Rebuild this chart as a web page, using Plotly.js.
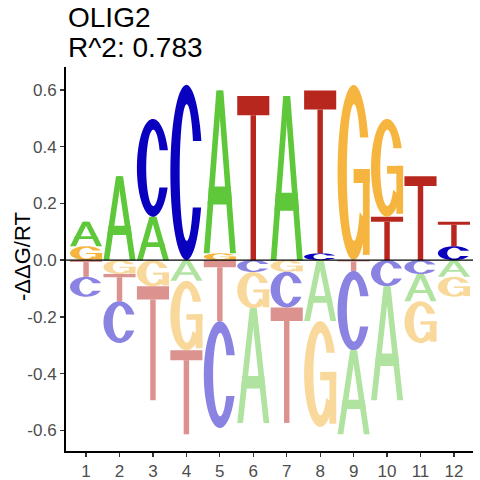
<!DOCTYPE html>
<html><head><meta charset="utf-8">
<script src="https://cdn.plot.ly/plotly-3.0.1.min.js"></script>
<style>html,body{margin:0;padding:0;background:#fff}#chart{width:480px;height:480px}</style>
</head><body><div id="chart"></div>
<script>
// ---- data ----
const positions = [1, 2, 3, 4, 5, 6, 7, 8, 9, 10, 11, 12];
const tickLabels = ['1', '2', '3', '4', '5', '6', '7', '8', '9', '10', '11', '12'];
const bases = ['A', 'C', 'G', 'T'];
const valA = [0.086, 0.296, 0.153, -0.073, 0.574, -0.404, 0.579, -0.215, -0.296, -0.402, -0.096, -0.059];
const valC = [-0.070, -0.147, 0.345, 0.618, -0.377, -0.042, -0.126, 0.024, -0.280, -0.092, -0.049, 0.049];
const valG = [0.049, -0.049, -0.092, -0.245, 0.024, -0.128, -0.041, -0.373, 0.618, 0.345, -0.147, -0.070];
const valT = [-0.059, -0.096, -0.402, -0.296, -0.215, 0.579, -0.407, 0.574, -0.038, 0.153, 0.296, 0.086];
const yTickVals = [-0.6, -0.4, -0.2, 0, 0.2, 0.4, 0.6];
const yTickText = ['-0.6', '-0.4', '-0.2', '0.0', '0.2', '0.4', '0.6'];
const titleLine1 = 'OLIG2';
const titleLine2 = 'R^2: 0.783';
const yTitle = '-ΔΔG/RT';

// ---- styles ----
const posColors = {A: '#5EC73A', C: '#0A00C0', G: '#F5B53F', T: '#B8271E'};
const negColors = {A: '#B0E2A0', C: '#8A83E2', G: '#F9D99B', T: '#DC928E'};
const FONT = 'Liberation Sans, Arial, Helvetica, sans-serif';
const HW = 0.48;

// ---- glyph outlines in a unit box ----
function rect(u0, v0, u1, v1) { return [[u0, v0], [u1, v0], [u1, v1], [u0, v1]]; }
function arcGlyph(isG) {
  const cx = 0.5, cy = 0.5, rxo = 0.5, ryo = 0.5, cxi = 0.51, rxi = 0.22, ryi = 0.39;
  const vTop = isG ? 0.70 : 0.68, vBot = 0.30;
  const aTopO = Math.asin((vTop - cy) / ryo), aTopI = Math.asin((vTop - cy) / ryi);
  let aEndO, aEndI;
  if (isG) { aEndO = aEndI = 2 * Math.PI - 35 * Math.PI / 180; }
  else { aEndO = 2 * Math.PI + Math.asin((vBot - cy) / ryo); aEndI = 2 * Math.PI + Math.asin((vBot - cy) / ryi); }
  const N = 60, pts = [];
  for (let i = 0; i <= N; i++) { const a = aTopO + (aEndO - aTopO) * i / N; pts.push([cx + rxo * Math.cos(a), cy + ryo * Math.sin(a)]); }
  for (let i = N; i >= 0; i--) { const a = aTopI + (aEndI - aTopI) * i / N; pts.push([cxi + rxi * Math.cos(a), cy + ryi * Math.sin(a)]); }
  const polys = [pts];
  if (isG) { polys.push(rect(0.5, 0.44, 1.0, 0.52)); polys.push(rect(0.79, 0.03, 1.0, 0.52)); }
  return polys;
}
const glyphs = {
  T: [rect(0, 0.883, 1, 1), rect(0.415, 0, 0.585, 0.883)],
  A: [
    [[0, 0], [0.18, 0], [0.565, 1], [0.39, 1]],
    [[1, 0], [0.82, 0], [0.435, 1], [0.61, 1]],
    [[0.117, 0.30], [0.883, 0.30], [0.84, 0.41], [0.16, 0.41]]
  ],
  C: arcGlyph(false),
  G: arcGlyph(true)
};

const shapes = [];
function addLetter(letter, x, y0, y1, positive) {
  const color = positive ? posColors[letter] : negColors[letter];
  glyphs[letter].forEach(poly => {
    const path = 'M' + poly.map(p => (x - HW + p[0] * 2 * HW).toFixed(5) + ',' + (y0 + p[1] * (y1 - y0)).toFixed(5)).join('L') + 'Z';
    shapes.push({type: 'path', xref: 'x', yref: 'y', path: path, fillcolor: color, line: {width: 0}, layer: 'above'});
  });
}

const series = [valA, valC, valG, valT];
positions.forEach((x, i) => {
  const vals = bases.map((b, k) => ({b: b, v: series[k][i]}));
  const ups = vals.filter(d => d.v > 0).sort((a, b) => a.v - b.v);
  let y = 0;
  ups.forEach(d => { addLetter(d.b, x, y, y + d.v, true); y += d.v; });
  const downs = vals.filter(d => d.v < 0).sort((a, b) => b.v - a.v);
  y = 0;
  downs.forEach(d => { addLetter(d.b, x, y + d.v, y, false); y += d.v; });
});
shapes.push({type: 'line', xref: 'paper', x0: 0, x1: 1, yref: 'y', y0: 0, y1: 0, line: {color: '#000', width: 1.2}, layer: 'above'});

const trace = {x: positions, y: positions.map(() => 0), mode: 'markers', marker: {opacity: 0}, hoverinfo: 'skip', showlegend: false};

const layout = {
  width: 480, height: 480,
  margin: {l: 66, r: 7, t: 67, b: 29, pad: 0},
  paper_bgcolor: '#fff', plot_bgcolor: '#fff',
  font: {family: FONT},
  showlegend: false,
  xaxis: {
    range: [0.40, 12.57], tickmode: 'array', tickvals: positions, ticktext: tickLabels,
    showgrid: false, zeroline: false, showline: true, linecolor: '#000', linewidth: 2,
    ticks: 'outside', ticklen: 4, tickwidth: 1.3, tickcolor: '#333',
    tickfont: {family: FONT, size: 17, color: '#4D4D4D'}
  },
  yaxis: {
    range: [-0.673, 0.681], tickmode: 'array', tickvals: yTickVals, ticktext: yTickText,
    showgrid: false, zeroline: false, showline: true, linecolor: '#000', linewidth: 2,
    ticks: 'outside', ticklen: 4, tickwidth: 1.3, tickcolor: '#333',
    tickfont: {family: FONT, size: 17, color: '#4D4D4D'}
  },
  shapes: shapes,
  annotations: [
    {text: titleLine1, xref: 'paper', yref: 'paper', x: 0, y: (451 - 17) / 384, xanchor: 'left', yanchor: 'middle', showarrow: false, font: {family: FONT, size: 28, color: '#000'}},
    {text: titleLine2, xref: 'paper', yref: 'paper', x: 0, y: (451 - 47) / 384, xanchor: 'left', yanchor: 'middle', showarrow: false, font: {family: FONT, size: 28, color: '#000'}},
    {text: yTitle, xref: 'paper', yref: 'paper', x: (22.5 - 66) / 407, y: (451 - 256.5) / 384, xanchor: 'center', yanchor: 'middle', textangle: -90, showarrow: false, font: {family: FONT, size: 22, color: '#000'}}
  ]
};

Plotly.newPlot('chart', [trace], layout, {displayModeBar: false, staticPlot: true});
</script>
</body></html>
